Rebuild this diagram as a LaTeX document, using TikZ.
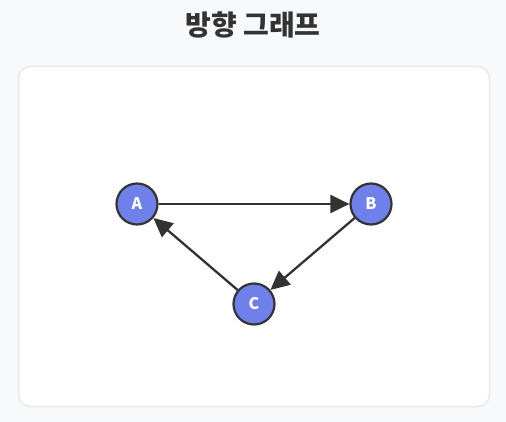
\documentclass[tikz,border=0pt]{standalone}
\usepackage{fontspec}
\newfontfamily\krfont{Noto Sans CJK KR}
\usetikzlibrary{arrows.meta}
\definecolor{pagebg}{HTML}{F8F9FA}
\definecolor{cardline}{HTML}{E6E8EB}
\definecolor{nodefill}{HTML}{7080EA}
\definecolor{inkdark}{HTML}{333333}
\tikzset{
  vertex/.style={circle, draw=inkdark, line width=2.2pt, fill=nodefill, minimum size=41pt, inner sep=0pt, text=white, font=\krfont\bfseries\fontsize{16}{16}\selectfont},
  edge/.style={draw=inkdark, line width=2.3pt, -{Triangle[length=19pt,width=18pt]}}
}
\begin{document}
\begin{tikzpicture}[x=1pt,y=-1pt]
\fill[pagebg] (0,0) rectangle (506,422);
\useasboundingbox (0,0) rectangle (506,422);
\draw[cardline, fill=white, line width=1.5pt, rounded corners=12pt] (18.5,66.5) rectangle (489.5,406.5);
\node[text=inkdark, font=\krfont\bfseries\fontsize{28}{28}\selectfont] (title) at (253,25) {방향 그래프};
\node[vertex] (a) at (137,204) {A};
\node[vertex] (b) at (371,204) {B};
\node[vertex] (c) at (254,304) {C};
\draw[edge] (a) -- (b);
\draw[edge] (b) -- (c);
\draw[edge] (c) -- (a);
\end{tikzpicture}
\end{document}
